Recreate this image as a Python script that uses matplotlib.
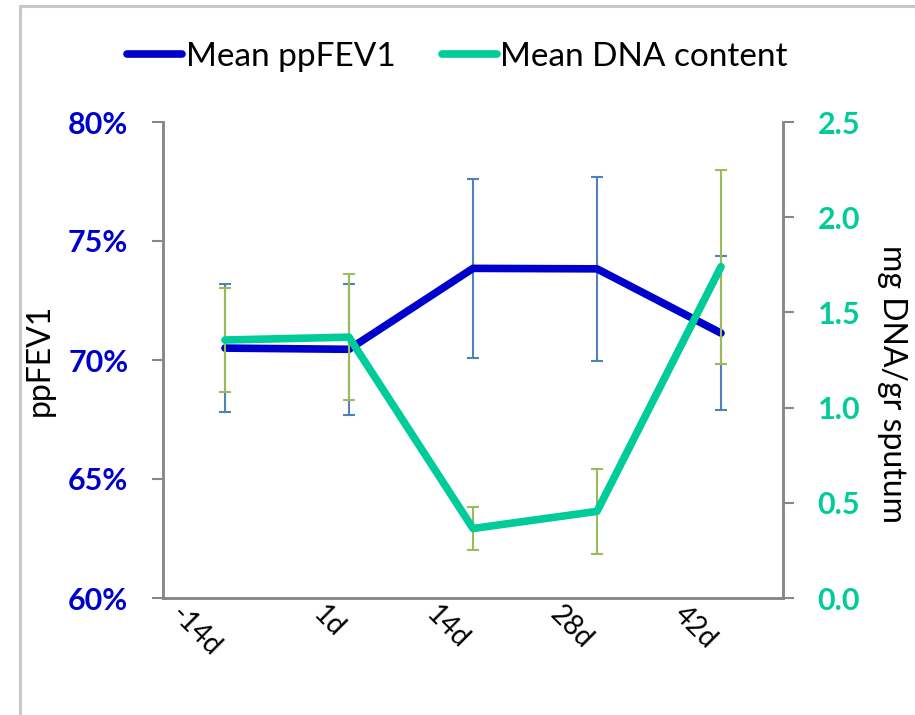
import matplotlib
matplotlib.use("Agg")
import matplotlib.pyplot as plt
import matplotlib.patches as mpatches
from matplotlib.ticker import FixedLocator, FuncFormatter

plt.rcParams['font.family'] = ['Lato', 'DejaVu Sans']

categories = ["-14d", "1d", "14d", "28d", "42d"]
fev1_mean = [70.5, 70.45, 73.85, 73.83, 71.13]
fev1_err = [2.7, 2.75, 3.75, 3.87, 3.25]
dna_mean = [1.355, 1.37, 0.365, 0.455, 1.74]
dna_err = [0.275, 0.33, 0.115, 0.225, 0.51]

left_ticks = [60, 65, 70, 75, 80]
right_ticks = [0.0, 0.5, 1.0, 1.5, 2.0, 2.5]

c_fev = "#0000CC"
c_dna = "#00CC99"
c_fev_err = "#4F81BD"
c_dna_err = "#9BBB59"
c_axis = "#878787"

fig = plt.figure(figsize=(9.15, 7.15), dpi=100)
ax = fig.add_axes([163/915, 1-598/715, (783-163)/915, (598-122)/715])
ax2 = ax.twinx()

x = list(range(len(categories)))

ax.errorbar(x, fev1_mean, yerr=fev1_err, fmt='none', ecolor=c_fev_err,
            elinewidth=1.5, capsize=4.5, capthick=1.5, zorder=2)
ax.plot(x, fev1_mean, color=c_fev, lw=5.5, solid_capstyle='round',
        solid_joinstyle='round', zorder=3, label="Mean ppFEV1")

ax2.errorbar(x, dna_mean, yerr=dna_err, fmt='none', ecolor=c_dna_err,
             elinewidth=1.5, capsize=4.5, capthick=1.5, zorder=2)
ax2.plot(x, dna_mean, color=c_dna, lw=5.5, solid_capstyle='round',
         solid_joinstyle='round', zorder=3, label="Mean DNA content")

ax.set_xlim(-0.5, len(categories) - 0.5)
ax.set_ylim(left_ticks[0], left_ticks[-1])
ax2.set_ylim(right_ticks[0], right_ticks[-1])

ax.set_xticks(x)
ax.set_xticklabels(categories, rotation=-45, ha='right', va='top',
                   fontsize=20, color='black')
ax.tick_params(axis='x', length=0, pad=2)

ax.yaxis.set_major_locator(FixedLocator(left_ticks))
ax.yaxis.set_major_formatter(FuncFormatter(lambda v, p: f"{v:.0f}%"))
ax.tick_params(axis='y', direction='out', length=8, width=1.5, color=c_axis,
               pad=17, labelsize=22, labelcolor=c_fev)
for t in ax.get_yticklabels():
    t.set_fontweight('bold')

ax2.yaxis.set_major_locator(FixedLocator(right_ticks))
ax2.yaxis.set_major_formatter(FuncFormatter(lambda v, p: f"{v:.1f}"))
ax2.tick_params(axis='y', direction='out', length=8, width=1.5, color=c_axis,
                pad=17, labelsize=22, labelcolor=c_dna)
for t in ax2.get_yticklabels():
    t.set_fontweight('bold')

for a in (ax, ax2):
    a.spines['top'].set_visible(False)
    for s in ('left', 'right', 'bottom'):
        a.spines[s].set_color(c_axis)
        a.spines[s].set_linewidth(1.8)

fig.text(40/915, 1-360/715, "ppFEV1", rotation=90, ha='center', va='center',
         fontsize=23, color='black')
fig.text(892/915, 1-384/715, "mg DNA/gr sputum", rotation=-90, ha='center',
         va='center', fontsize=23, color='black')

h1, l1 = ax.get_legend_handles_labels()
h2, l2 = ax2.get_legend_handles_labels()
leg = fig.legend(h1 + h2, l1 + l2, loc='center', bbox_to_anchor=(0.5, 1-57/715),
                 ncol=2, frameon=False, fontsize=24, handlelength=1.65,
                 handletextpad=0.1, columnspacing=1.4)

border = mpatches.Rectangle((20/915, -0.2), 1.5, 0.2 + 1 - 6/715,
                            transform=fig.transFigure, fill=False,
                            edgecolor="#C8C8C8", linewidth=2.2)
fig.add_artist(border)

fig.savefig("out.png", dpi=100)
